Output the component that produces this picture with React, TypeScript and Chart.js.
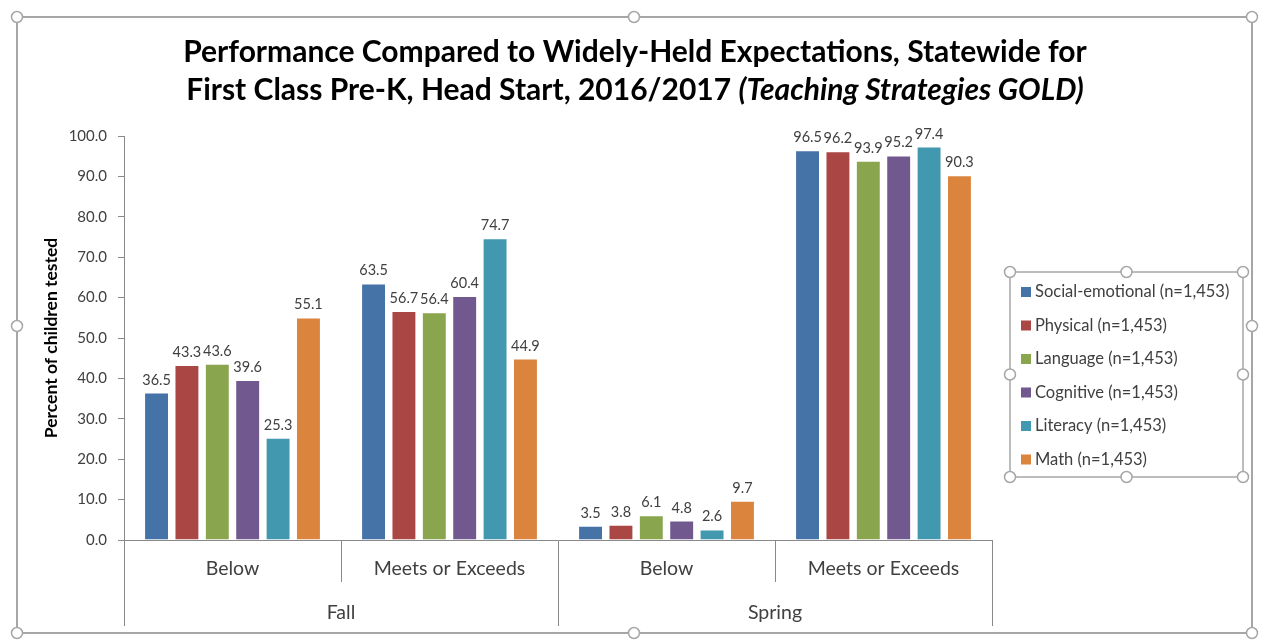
import React, { useEffect, useRef } from "react";
import { Chart, registerables } from "chart.js";

Chart.register(...registerables);

const subCategories = ["Below", "Meets or Exceeds", "Below", "Meets or Exceeds"];
const seasons = ["Fall", "Spring"];
const yTicks = [0, 10, 20, 30, 40, 50, 60, 70, 80, 90, 100];

const seriesNames = [
  "Social-emotional (n=1,453)",
  "Physical (n=1,453)",
  "Language (n=1,453)",
  "Cognitive (n=1,453)",
  "Literacy (n=1,453)",
  "Math (n=1,453)",
];
const socialEmotional = [36.5, 63.5, 3.5, 96.5];
const physical = [43.3, 56.7, 3.8, 96.2];
const language = [43.6, 56.4, 6.1, 93.9];
const cognitive = [39.6, 60.4, 4.8, 95.2];
const literacy = [25.3, 74.7, 2.6, 97.4];
const math = [55.1, 44.9, 9.7, 90.3];
const seriesValues = [socialEmotional, physical, language, cognitive, literacy, math];
const seriesColors = ["#4572A7", "#AA4643", "#89A54E", "#71588F", "#4198AF", "#DB843D"];

const titleLine1 = "Performance Compared to Widely-Held Expectations, Statewide for";
const titleLine2a = "First Class Pre-K, Head Start, 2016/2017 ";
const titleLine2b = "(Teaching Strategies GOLD)";
const yTitle = "Percent of children tested";

const FONT = "Lato, 'Open Sans', sans-serif";
const TEXT = "#404040";
const AXIS = "#898989";

function drawHandle(ctx: CanvasRenderingContext2D, x: number, y: number) {
  ctx.beginPath();
  ctx.arc(x, y, 5.5, 0, Math.PI * 2);
  ctx.fillStyle = "#ffffff";
  ctx.fill();
  ctx.lineWidth = 1.5;
  ctx.strokeStyle = "#a6a6a6";
  ctx.stroke();
}

const decorPlugin = {
  id: "decor",
  afterDraw(chart: any) {
    const ctx: CanvasRenderingContext2D = chart.ctx;
    ctx.save();
    // Title
    ctx.fillStyle = "#000000";
    ctx.textBaseline = "middle";
    ctx.textAlign = "left";
    const cx = 635;
    const tf = 30;
    ctx.font = `bold ${tf}px ${FONT}`;
    const w1 = ctx.measureText(titleLine1).width;
    ctx.fillText(titleLine1, cx - w1 / 2, 52);
    const wa = ctx.measureText(titleLine2a).width;
    ctx.font = `italic bold ${tf}px ${FONT}`;
    const wb = ctx.measureText(titleLine2b).width;
    const start = cx - (wa + wb) / 2;
    ctx.font = `bold ${tf}px ${FONT}`;
    ctx.fillText(titleLine2a, start, 90);
    ctx.font = `italic bold ${tf}px ${FONT}`;
    ctx.fillText(titleLine2b, start + wa, 90);

    // Legend
    const lx = 1010, ly = 272, lw = 233, lh = 205;
    ctx.strokeStyle = "#a6a6a6";
    ctx.lineWidth = 1.5;
    ctx.strokeRect(lx, ly, lw, lh);
    ctx.font = `16.5px ${FONT}`;
    ctx.textBaseline = "middle";
    ctx.textAlign = "left";
    chart.data.datasets.forEach((ds: any, i: number) => {
      const y = 292 + i * 33.5;
      ctx.fillStyle = ds.backgroundColor;
      ctx.fillRect(1021, y - 5, 10, 10);
      ctx.fillStyle = TEXT;
      ctx.fillText(ds.label, 1035, y);
    });

    // Outer frame
    ctx.strokeStyle = "#a6a6a6";
    ctx.lineWidth = 2;
    ctx.strokeRect(17, 17, 1235, 616);
    const hx = [17, 634, 1252];
    const hy = [17, 326, 633];
    hx.forEach((x, i) =>
      hy.forEach((y, j) => {
        if (i === 1 && j === 1) return;
        drawHandle(ctx, x, y);
      })
    );
    const lhx = [lx, lx + lw / 2, lx + lw];
    const lhy = [ly, ly + lh / 2, ly + lh];
    lhx.forEach((x, i) =>
      lhy.forEach((y, j) => {
        if (i === 1 && j === 1) return;
        drawHandle(ctx, x, y);
      })
    );
    ctx.restore();
  },
};

const dataLabelPlugin = {
  id: "dataLabels",
  afterDatasetsDraw(chart: any) {
    const ctx: CanvasRenderingContext2D = chart.ctx;
    ctx.save();
    ctx.font = `14.5px ${FONT}`;
    ctx.fillStyle = TEXT;
    ctx.textAlign = "center";
    ctx.textBaseline = "alphabetic";
    chart.data.datasets.forEach((ds: any, i: number) => {
      const meta = chart.getDatasetMeta(i);
      meta.data.forEach((bar: any, j: number) => {
        const v = ds.data[j] as number;
        ctx.fillText(v.toFixed(1), bar.x, bar.y - 8);
      });
    });
    ctx.restore();
  },
};

export default function App() {
  const ref = useRef<HTMLCanvasElement | null>(null);
  useEffect(() => {
    if (!ref.current) return;
    Chart.defaults.font.family = FONT;
    const chart = new Chart(ref.current, {
      type: "bar",
      data: {
        labels: subCategories,
        datasets: seriesValues.map((vals, i) => ({
          label: seriesNames[i],
          data: vals,
          backgroundColor: seriesColors[i],
          borderColor: "rgba(255,255,255,0.55)",
          borderWidth: 1,
          categoryPercentage: 0.84,
          barPercentage: 0.82,
          xAxisID: "x",
          yAxisID: "y",
        })),
      },
      options: {
        responsive: false,
        animation: false,
        layout: { padding: { left: 0, top: 136, right: 271, bottom: 14 } },
        plugins: {
          legend: { display: false },
          title: { display: false },
          tooltip: { enabled: false },
        },
        scales: {
          y: {
            min: 0,
            max: 100,
            afterFit: (axis: any) => {
              axis.width = 124;
            },
            afterBuildTicks: (axis: any) => {
              axis.ticks = yTicks.map((v) => ({ value: v }));
            },
            ticks: {
              color: TEXT,
              font: { size: 15 },
              padding: 11,
              callback: (v: any) => Number(v).toFixed(1),
            },
            grid: {
              drawOnChartArea: false,
              drawTicks: true,
              tickLength: 6,
              color: AXIS,
            },
            border: { display: true, color: AXIS, width: 1 },
            title: {
              display: true,
              text: yTitle,
              color: "#000000",
              font: { size: 17.5, weight: "bold" },
              padding: { top: 41, bottom: 0 },
            },
          },
          x: {
            type: "category",
            position: "bottom",
            offset: true,
            afterFit: (axis: any) => {
              axis.height = 42;
            },
            ticks: {
              color: TEXT,
              font: { size: 19.5 },
              padding: -25,
              maxRotation: 0,
              autoSkip: false,
            },
            grid: {
              offset: true,
              drawOnChartArea: false,
              drawTicks: true,
              tickLength: 42,
              color: AXIS,
            },
            border: { display: true, color: AXIS, width: 1 },
          },
          x2: {
            type: "category",
            position: "bottom",
            labels: seasons,
            offset: true,
            afterFit: (axis: any) => {
              axis.height = 44;
            },
            ticks: {
              color: TEXT,
              font: { size: 19.5 },
              padding: -25,
              maxRotation: 0,
              autoSkip: false,
            },
            grid: {
              offset: true,
              drawOnChartArea: false,
              drawTicks: true,
              tickLength: 44,
              color: AXIS,
            },
            border: { display: false },
          },
        },
      } as any,
      plugins: [dataLabelPlugin, decorPlugin],
    });
    return () => chart.destroy();
  }, []);
  return (
    <div style={{ position: "fixed", left: 0, top: 0, width: 1263, height: 640, background: "#fff" }}>
      <canvas ref={ref} width={1263} height={640} style={{ display: "block" }} />
    </div>
  );
}
